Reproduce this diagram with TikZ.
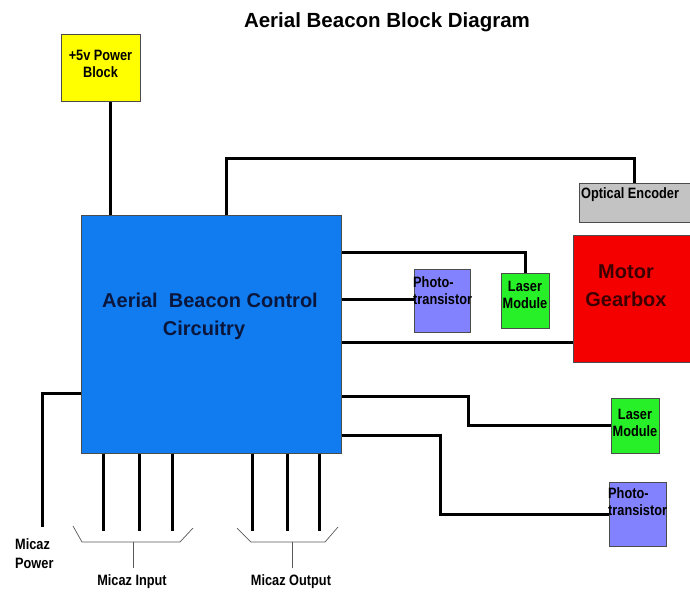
\documentclass[tikz,border=0pt]{standalone}
\usepackage{fontspec}
\setmainfont{Liberation Sans}
\newfontfamily\narrowfont[FakeStretch=0.85]{Liberation Sans}
\definecolor{mainblue}{RGB}{16,124,240}
\definecolor{navytext}{RGB}{10,22,60}
\definecolor{photoblue}{RGB}{130,130,255}
\definecolor{lasergreen}{RGB}{40,240,40}
\definecolor{encgray}{RGB}{195,195,195}
\definecolor{motred}{RGB}{245,0,0}
\definecolor{motortext}{RGB}{60,0,0}
\definecolor{pwryellow}{RGB}{255,255,0}
\begin{document}
\begin{tikzpicture}[x=1pt,y=-1pt,
  blk/.style={draw=black!70, line width=0.8pt, anchor=north west, inner sep=0pt},
  small/.style={font=\narrowfont\bfseries\fontsize{15}{17}\selectfont, align=center, inner sep=0pt},
  wire/.style={line width=3pt, line join=miter},
  brk/.style={line width=0.7pt, draw=black!65}]
\useasboundingbox[fill=white] (0,0) rectangle (690,592);

% title
\node[font=\bfseries\fontsize{20.5}{24}\selectfont] (title) at (387,22) {Aerial Beacon Block Diagram};

% blocks
\node[blk, fill=mainblue, minimum width=260, minimum height=238] (main) at (81,215) {};
\node[font=\bfseries\fontsize{20}{24}\selectfont, text=navytext, inner sep=0pt] (mt1) at (210,300) {Aerial\ \ Beacon Control};
\node[font=\bfseries\fontsize{20}{24}\selectfont, text=navytext, inner sep=0pt] (mt2) at (204,330) {Circuitry};

\node[blk, fill=pwryellow, minimum width=79, minimum height=67] (pwr) at (61,34) {};
\node[small] (pwrt) at (100.5,64) {+5v Power\\Block};

\node[blk, fill=encgray, minimum width=111, minimum height=39] (enc) at (579,183) {};
\node[small, anchor=west] (enct) at (581,195) {Optical Encoder};

\node[blk, fill=motred, minimum width=117, minimum height=127] (mot) at (573,235) {};
\node[font=\bfseries\fontsize{20}{28}\selectfont, text=motortext, align=center, inner sep=0pt] (mott) at (626,286) {Motor\\Gearbox};

\node[blk, fill=photoblue, minimum width=56, minimum height=63] (ph1) at (414,269) {};
\node[small, align=left, anchor=west] (ph1t) at (413,291) {Photo-\\transistor};

\node[blk, fill=lasergreen, minimum width=48, minimum height=55] (las1) at (501,273) {};
\node[small] (las1t) at (525,295) {Laser\\Module};

\node[blk, fill=lasergreen, minimum width=48, minimum height=55] (las2) at (611,398) {};
\node[small] (las2t) at (635,423) {Laser\\Module};

\node[blk, fill=photoblue, minimum width=57, minimum height=64] (ph2) at (609,482) {};
\node[small, align=left, anchor=west] (ph2t) at (608,502) {Photo-\\transistor};

% bend coordinates
\coordinate (xp) at (110,0);
\coordinate (xe) at (226,0);
\coordinate (ye) at (0,158);
\coordinate (y1) at (0,252);
\coordinate (y2) at (0,299);
\coordinate (y3) at (0,342);
\coordinate (b4) at (468,396);
\coordinate (b5) at (440,435);
\coordinate (b6) at (42,393);
\coordinate (e6) at (42,527);

% wires
\draw[wire] (main.north -| xp) -- (pwr.south -| xp);
\draw[wire] (main.north -| xe) |- (enc.north |- ye) -- (enc.north);
\draw[wire] (main.east |- y1) -| (las1.north);
\draw[wire] (main.east |- y2) -- (ph1.west |- y2);
\draw[wire] (main.east |- y3) -- (mot.west |- y3);
\draw[wire] (main.east |- b4) -- (b4) |- (las2.west);
\draw[wire] (main.east |- b5) -- (b5) |- (ph2.west);
\draw[wire] (main.west |- b6) -- (b6) -- (e6);
\foreach \x/\n in {103/a,139/b,172/c,252/d,287/e,319/f}{
  \coordinate (t\n) at (\x,531);
  \draw[wire] (main.south -| t\n) -- (t\n);
}

% brackets
\draw[brk] (73,526) -- (82,542) -- (180,542) -- (193,528);
\draw[brk] (237,528) -- (251,542) -- (325,542) -- (338,527);
\coordinate (si) at (133,542);
\coordinate (so) at (292,542);
\node[small] (inlab) at (132,582) {Micaz Input};
\node[small] (outlab) at (291,582) {Micaz Output};
\draw[brk] (si) -- (si |- 0,568);
\draw[brk] (so) -- (so |- 0,568);

\node[small, align=left, anchor=west, font=\narrowfont\bfseries\fontsize{15}{19}\selectfont] (pwrlab) at (15,554) {Micaz\\Power};
\end{tikzpicture}
\end{document}
